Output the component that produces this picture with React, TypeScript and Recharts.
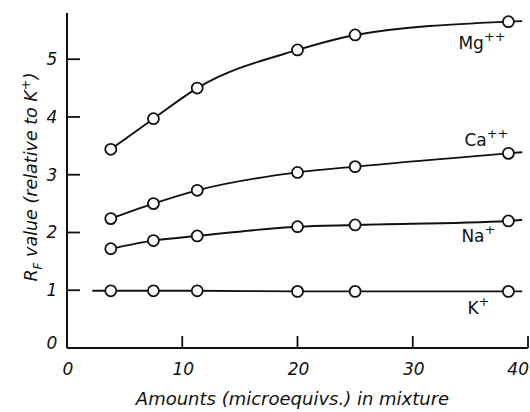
import React from 'react';
import { LineChart, Line, XAxis, YAxis, LabelList } from 'recharts';

// amounts (microequivs.) for each measured point
const amounts = [3.8, 7.5, 11.3, 20, 25, 38.3];
const mgValues = [3.44, 3.97, 4.5, 5.16, 5.42, 5.65];
const caValues = [2.24, 2.5, 2.73, 3.04, 3.14, 3.37];
const naValues = [1.72, 1.86, 1.94, 2.1, 2.13, 2.2];
const kValues = [0.99, 0.99, 0.99, 0.98, 0.98, 0.98];

// where the drawn curves start / stop beyond the points
const curveStartX = 2.2;
const kCurveStart = 0.99;
const curveEndX = 39.5;
const curveEnds = { mg: 5.66, ca: 3.39, na: 2.22, k: 0.98 };

const xTicks = [0, 10, 20, 30, 40];
const yTicks = [0, 1, 2, 3, 4, 5];

const data = [
  { x: curveStartX, k: kCurveStart, measured: false },
  ...amounts.map((x, i) => ({
    x,
    mg: mgValues[i],
    ca: caValues[i],
    na: naValues[i],
    k: kValues[i],
    measured: true,
  })),
  { x: curveEndX, ...curveEnds, measured: false },
];

const FONT = '"DejaVu Sans", sans-serif';
const INK = '#111';

const HollowDot = (props: any) => {
  const { cx, cy, payload, index } = props;
  if (!payload || !payload.measured || cy == null) return <g key={`d-${index}`} />;
  return <circle key={`d-${index}`} cx={cx} cy={cy} r={5.5} fill="#fff" stroke={INK} strokeWidth={1.8} />;
};

const YTick = (props: any) => {
  const { x, y, payload } = props;
  return (
    <g>
      {payload.value !== 0 && <line x1={x} x2={x + 13} y1={y} y2={y} stroke={INK} strokeWidth={1.8} />}
      <text x={x - 15} y={payload.value === 0 ? y - 5 : y} dy={6} textAnchor="middle" fontFamily={FONT} fontStyle="italic" fontSize={17} fill={INK}>
        {payload.value}
      </text>
    </g>
  );
};

const XTick = (props: any) => {
  const { x, y, payload } = props;
  const last = payload.value === 40;
  return (
    <g>
      {payload.value !== 0 && <line x1={x} x2={x} y1={y} y2={y - 12} stroke={INK} strokeWidth={1.8} />}
      <text x={x + 1} y={y + 27} textAnchor={last ? 'end' : 'middle'} fontFamily={FONT} fontStyle="italic" fontSize={17} fill={INK}>
        {payload.value}
      </text>
    </g>
  );
};

const ionLabel = (name: string, charge: string, dx: number, dy: number) => (props: any) => {
  const { x, y, index } = props;
  if (index !== amounts.length) return null;
  return (
    <text x={x + dx} y={y + dy} fontFamily={FONT} fontSize={17} fill={INK}>
      {name}
      <tspan dy={-8} fontSize={13}>{charge}</tspan>
    </text>
  );
};

const YTitle = () => (
  <text transform="translate(37,177) rotate(-90)" textAnchor="middle" fontFamily={FONT} fontStyle="italic" fontSize={17.5} fill={INK}>
    R<tspan dy={5} fontSize={12}>F</tspan>
    <tspan dy={-5}> value (relative to K</tspan>
    <tspan dy={-7} fontSize={13}>+</tspan>
    <tspan dy={7}>)</tspan>
  </text>
);

export default function App() {
  return (
    <div style={{ position: 'absolute', left: 0, top: 0, background: '#fff' }}>
      <LineChart width={530} height={412} data={data} margin={{ top: 13, right: 2, bottom: 0, left: 0 }}>
        <XAxis
          type="number"
          dataKey="x"
          domain={[0, 40]}
          ticks={xTicks}
          interval={0}
          height={64}
          tickSize={0}
          tickMargin={0}
          tickLine={false}
          axisLine={{ stroke: INK, strokeWidth: 2 }}
          tick={<XTick />}
          label={{
            value: 'Amounts (microequivs.) in mixture',
            position: 'insideBottom',
            offset: 7,
            dx: -5,
            style: { fontFamily: FONT, fontStyle: 'italic', fontSize: 18, fill: INK },
          }}
        />
        <YAxis
          type="number"
          domain={[0, 5.8]}
          ticks={yTicks}
          interval={0}
          width={67}
          tickSize={0}
          tickMargin={0}
          tickLine={false}
          axisLine={{ stroke: INK, strokeWidth: 2 }}
          tick={<YTick />}
          label={<YTitle />}
        />
        <Line type="monotone" dataKey="mg" stroke={INK} strokeWidth={1.9} dot={<HollowDot />} activeDot={false} connectNulls isAnimationActive={false}>
          <LabelList dataKey="mg" content={ionLabel('Mg', '++', -50, 27)} />
        </Line>
        <Line type="monotone" dataKey="ca" stroke={INK} strokeWidth={1.9} dot={<HollowDot />} activeDot={false} connectNulls isAnimationActive={false}>
          <LabelList dataKey="ca" content={ionLabel('Ca', '++', -44, -7)} />
        </Line>
        <Line type="monotone" dataKey="na" stroke={INK} strokeWidth={1.9} dot={<HollowDot />} activeDot={false} connectNulls isAnimationActive={false}>
          <LabelList dataKey="na" content={ionLabel('Na', '+', -47, 21)} />
        </Line>
        <Line type="monotone" dataKey="k" stroke={INK} strokeWidth={1.9} dot={<HollowDot />} activeDot={false} connectNulls isAnimationActive={false}>
          <LabelList dataKey="k" content={ionLabel('K', '+', -41, 23)} />
        </Line>
      </LineChart>
    </div>
  );
}
